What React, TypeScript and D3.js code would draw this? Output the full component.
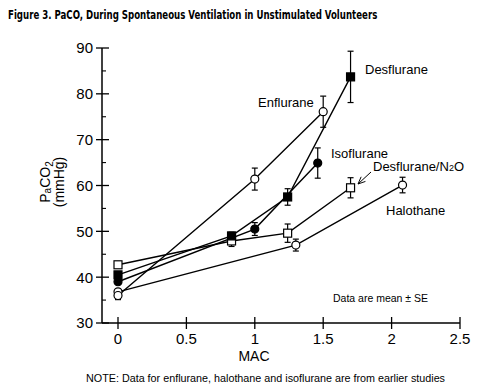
import React, { useEffect, useRef, useState } from 'react';
import * as d3 from 'd3';

// values (MAC, PaCO2 mmHg, SE)
const enfluraneMac = [0, 1.0, 1.5];
const enfluraneVal = [36.0, 61.4, 76.1];
const enfluraneSe = [0.9, 2.4, 3.4];

const halothaneMac = [0, 1.3, 2.08];
const halothaneVal = [36.8, 47.0, 60.1];
const halothaneSe = [0.6, 1.3, 1.7];

const desfluraneMac = [0, 0.83, 1.24, 1.7];
const desfluraneVal = [40.5, 49.0, 57.5, 83.7];
const desfluraneSe = [0.7, 0.8, 1.8, 5.6];

const desN2oMac = [0, 0.83, 1.24, 1.7];
const desN2oVal = [42.7, 47.9, 49.6, 59.5];
const desN2oSe = [0.5, 1.2, 2.0, 2.2];

const isofluraneMac = [0, 1.0, 1.46];
const isofluraneVal = [39.0, 50.5, 64.9];
const isofluraneSe = [0.6, 1.4, 3.3];

const xTicks = [0, 0.5, 1, 1.5, 2, 2.5];
const yTicks = [30, 40, 50, 60, 70, 80, 90];
const yMinor = [35, 45, 55, 65, 75, 85];

const series = [
  { name: 'Halothane', mac: halothaneMac, val: halothaneVal, se: halothaneSe, shape: 'circle', filled: false },
  { name: 'Enflurane', mac: enfluraneMac, val: enfluraneVal, se: enfluraneSe, shape: 'circle', filled: false },
  { name: 'Desflurane/N2O', mac: desN2oMac, val: desN2oVal, se: desN2oSe, shape: 'square', filled: false },
  { name: 'Isoflurane', mac: isofluraneMac, val: isofluraneVal, se: isofluraneSe, shape: 'circle', filled: true },
  { name: 'Desflurane', mac: desfluraneMac, val: desfluraneVal, se: desfluraneSe, shape: 'square', filled: true },
];

const font = 'Arial, "Liberation Sans", Helvetica, sans-serif';
const titleText = 'Figure 3. PaCO, During Spontaneous Ventilation in Unstimulated Volunteers';

export default function App() {
  const x = d3.scaleLinear().domain([0, 2.5]).range([118, 460]);
  const y = d3.scaleLinear().domain([30, 90]).range([323, 48]);
  const axisX = 102;

  // squeeze the title to the condensed width of the original
  const titleRef = useRef<SVGTextElement>(null);
  const [titleScale, setTitleScale] = useState(0.8);
  useEffect(() => {
    if (titleRef.current) {
      const w = titleRef.current.getComputedTextLength();
      if (w > 0) setTitleScale(369 / w);
    }
  }, []);

  const line = d3.line<[number, number]>()
    .x(d => x(d[0]))
    .y(d => y(d[1]));

  return (
    <svg width={480} height={392} style={{ position: 'absolute', left: 0, top: 0, background: '#fff' }}
      fontFamily={font}>
      <defs>
        <marker id="openArrow" viewBox="0 0 10 10" refX="9" refY="5" markerWidth="9" markerHeight="9"
          orient="auto-start-reverse" markerUnits="userSpaceOnUse">
          <path d="M1,1.5 L9,5 L1,8.5" fill="none" stroke="#000" strokeWidth={1} />
        </marker>
      </defs>

      <text ref={titleRef} transform={`translate(8,19) scale(${titleScale},1)`} fontSize={12.5} fontWeight="bold"
        fontFamily='"Liberation Sans Narrow", "Arial Narrow", "DejaVu Sans Condensed", sans-serif'>
        {titleText}
      </text>

      {/* axes */}
      <line x1={axisX} x2={axisX} y1={y(90)} y2={y(30)} stroke="#000" strokeWidth={1.5} />
      <line x1={axisX} x2={x(2.5)} y1={y(30)} y2={y(30)} stroke="#000" strokeWidth={1.5} />
      {yTicks.map(t => (
        <g key={'y' + t}>
          <line x1={axisX - 6} x2={axisX + 7} y1={y(t)} y2={y(t)} stroke="#000" strokeWidth={1.3} />
          <text x={93} y={y(t)} dy="0.36em" textAnchor="end" fontSize={15}>{t}</text>
        </g>
      ))}
      {yMinor.map(t => (
        <line key={'m' + t} x1={axisX} x2={axisX + 4} y1={y(t)} y2={y(t)} stroke="#000" strokeWidth={1.1} />
      ))}
      {xTicks.map(t => (
        <g key={'x' + t}>
          <line x1={x(t)} x2={x(t)} y1={y(30) - 6} y2={y(30) + 6} stroke="#000" strokeWidth={1.3} />
          <text x={x(t)} y={344} textAnchor="middle" fontSize={15}>{t}</text>
        </g>
      ))}
      <text x={254} y={361} textAnchor="middle" fontSize={14}>MAC</text>
      <text x={86} y={382} fontSize={10.5} textLength={359} lengthAdjust="spacingAndGlyphs">
        NOTE:  Data for enflurane, halothane and isoflurane are from earlier studies
      </text>

      <g transform="translate(50,182) rotate(-90)">
        <text x={0} y={0} textAnchor="middle" fontSize={14}>
          P<tspan fontSize={10} dy={1}>a</tspan><tspan dy={-1}>CO</tspan><tspan fontSize={10} dy={3}>2</tspan>
        </text>
        <text x={0} y={14} textAnchor="middle" fontSize={14}>(mmHg)</text>
      </g>

      {/* lines */}
      {series.map(s => (
        <path key={'l' + s.name} d={line(s.mac.map((m, i) => [m, s.val[i]] as [number, number])) || ''}
          fill="none" stroke="#000" strokeWidth={1.4} />
      ))}

      {/* error bars */}
      {series.map(s => s.mac.map((m, i) => (
        <g key={'e' + s.name + i} stroke="#000" strokeWidth={1.2}>
          <line x1={x(m)} x2={x(m)} y1={y(s.val[i] - s.se[i])} y2={y(s.val[i] + s.se[i])} />
          <line x1={x(m) - 3} x2={x(m) + 3} y1={y(s.val[i] - s.se[i])} y2={y(s.val[i] - s.se[i])} />
          <line x1={x(m) - 3} x2={x(m) + 3} y1={y(s.val[i] + s.se[i])} y2={y(s.val[i] + s.se[i])} />
        </g>
      )))}

      {/* markers */}
      {series.map(s => s.mac.map((m, i) => s.shape === 'circle' ? (
        <circle key={'p' + s.name + i} cx={x(m)} cy={y(s.val[i])} r={4}
          fill={s.filled ? '#000' : '#fff'} stroke="#000" strokeWidth={1.2} />
      ) : (
        <rect key={'p' + s.name + i} x={x(m) - 4} y={y(s.val[i]) - 4} width={8} height={8}
          fill={s.filled ? '#000' : '#fff'} stroke="#000" strokeWidth={1.2} />
      )))}

      {/* series labels */}
      <text x={365} y={74} fontSize={13}>Desflurane</text>
      <text x={258} y={107} fontSize={13}>Enflurane</text>
      <text x={331} y={158} fontSize={13}>Isoflurane</text>
      <text x={373} y={171} fontSize={13}>Desflurane/N<tspan fontSize={9}>2</tspan>O</text>
      <text x={386} y={215} fontSize={13}>Halothane</text>
      <line x1={371} y1={172} x2={358} y2={184} stroke="#000" strokeWidth={1} markerEnd="url(#openArrow)" />
      <text x={333} y={302} fontSize={10.5}>Data are mean ± SE</text>
    </svg>
  );
}
